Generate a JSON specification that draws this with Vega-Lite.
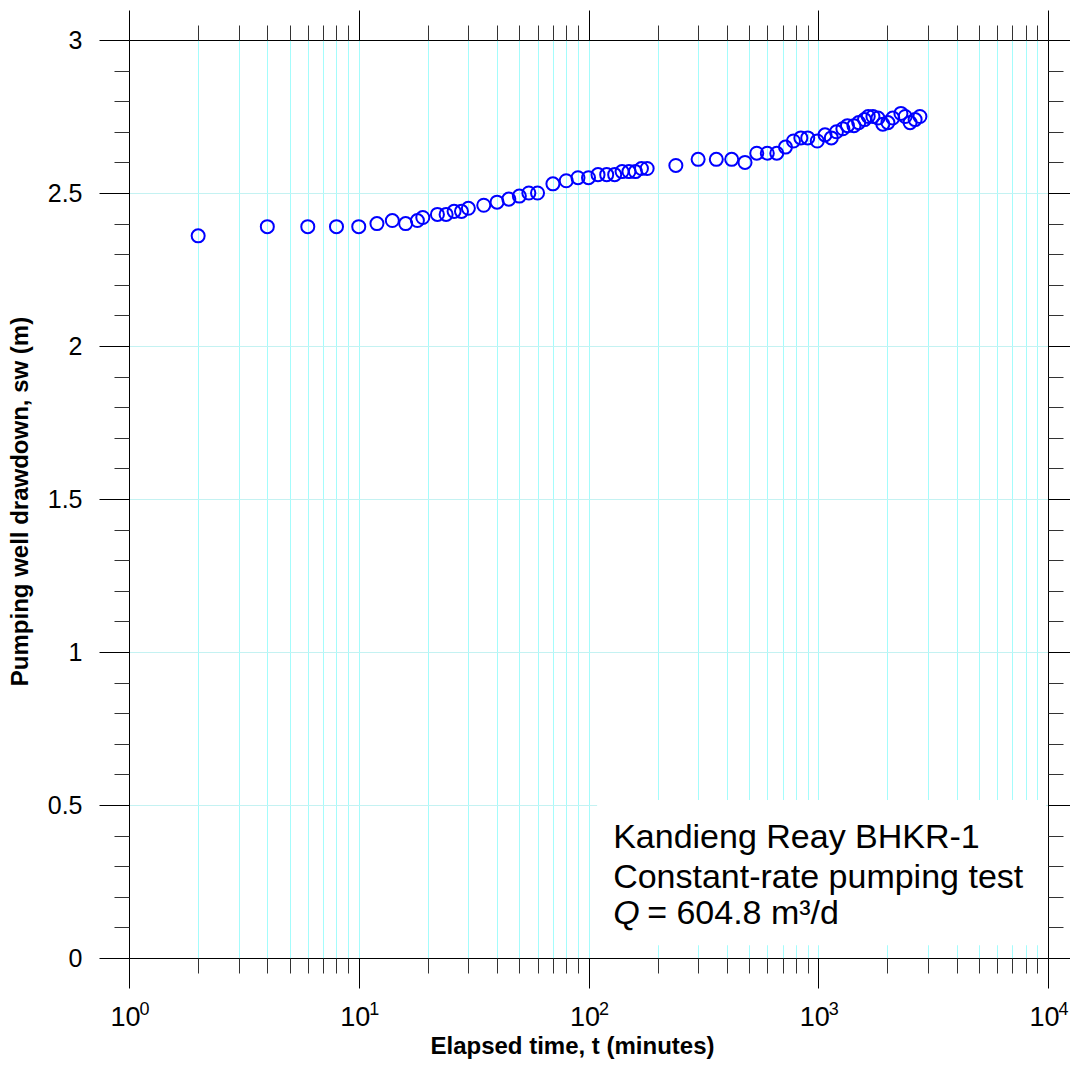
{
  "$schema": "https://vega.github.io/schema/vega-lite/v6.json",
  "width": 919,
  "height": 918,
  "autosize": {"type": "none"},
  "padding": {"left": 129, "top": 40, "right": 22, "bottom": 110},
  "background": "white",
  "config": {
    "view": {"stroke": null},
    "font": "Liberation Sans",
    "axis": {"labelFont": "Liberation Sans", "titleFont": "Liberation Sans", "labelColor": "black", "titleColor": "black", "domainColor": "black", "tickColor": "black", "tickWidth": 1, "domainWidth": 1}
  },
  "datasets": {
    "pts": [
      {"t": 2, "s": 2.36}, {"t": 4, "s": 2.39}, {"t": 6, "s": 2.39}, {"t": 8, "s": 2.39}, {"t": 10, "s": 2.39},
      {"t": 12, "s": 2.40}, {"t": 14, "s": 2.41}, {"t": 16, "s": 2.40}, {"t": 18, "s": 2.41}, {"t": 19, "s": 2.42},
      {"t": 22, "s": 2.43}, {"t": 24, "s": 2.43}, {"t": 26, "s": 2.44}, {"t": 28, "s": 2.44}, {"t": 30, "s": 2.45},
      {"t": 35, "s": 2.46}, {"t": 40, "s": 2.47}, {"t": 45, "s": 2.48}, {"t": 50, "s": 2.49}, {"t": 55, "s": 2.50},
      {"t": 60, "s": 2.50}, {"t": 70, "s": 2.53}, {"t": 80, "s": 2.54}, {"t": 90, "s": 2.55}, {"t": 100, "s": 2.55},
      {"t": 110, "s": 2.56}, {"t": 120, "s": 2.56}, {"t": 130, "s": 2.56}, {"t": 140, "s": 2.57}, {"t": 150, "s": 2.57},
      {"t": 160, "s": 2.57}, {"t": 170, "s": 2.58}, {"t": 180, "s": 2.58}, {"t": 240, "s": 2.59}, {"t": 300, "s": 2.61},
      {"t": 360, "s": 2.61}, {"t": 420, "s": 2.61}, {"t": 480, "s": 2.60}, {"t": 540, "s": 2.63}, {"t": 600, "s": 2.63},
      {"t": 660, "s": 2.63}, {"t": 720, "s": 2.65}, {"t": 780, "s": 2.67}, {"t": 840, "s": 2.68}, {"t": 900, "s": 2.68},
      {"t": 990, "s": 2.67}, {"t": 1070, "s": 2.69}, {"t": 1140, "s": 2.68}, {"t": 1200, "s": 2.70}, {"t": 1280, "s": 2.71},
      {"t": 1340, "s": 2.72}, {"t": 1430, "s": 2.72}, {"t": 1500, "s": 2.73}, {"t": 1590, "s": 2.74}, {"t": 1650, "s": 2.75},
      {"t": 1730, "s": 2.75}, {"t": 1820, "s": 2.745}, {"t": 1910, "s": 2.725}, {"t": 2010, "s": 2.73}, {"t": 2110, "s": 2.745},
      {"t": 2290, "s": 2.76}, {"t": 2390, "s": 2.75}, {"t": 2510, "s": 2.73}, {"t": 2640, "s": 2.74}, {"t": 2770, "s": 2.75}
    ],
    "box": [{"t1": 109, "t2": 9800, "s1": 0.042, "s2": 0.516}],
    "lines": [
      {"t": 128, "s": 0.359, "label": "Kandieng Reay BHKR-1"},
      {"t": 128, "s": 0.229, "label": "Constant-rate pumping test"}
    ],
    "qsym": [{"t": 128, "s": 0.111, "label": "Q"}],
    "qval": [{"t": 180, "s": 0.111, "label": "= 604.8 m³/d"}]
  },
  "resolve": {"axis": {"x": "independent", "y": "independent"}},
  "layer": [
    {
      "data": {"name": "box"},
      "mark": {"type": "rect", "fill": "white", "stroke": null},
      "encoding": {
        "x": {"field": "t1", "type": "quantitative",
          "scale": {"type": "log", "domain": [1, 10000], "nice": false},
          "axis": {"orient": "bottom", "values": [2,3,4,5,6,7,8,9,10,20,30,40,50,60,70,80,90,100,200,300,400,500,600,700,800,900,1000,2000,3000,4000,5000,6000,7000,8000,9000],
            "grid": true, "gridColor": "#a4fcfc", "gridWidth": 1, "gridOpacity": 1, "ticks": false, "labels": false, "domain": false, "title": null}},
        "x2": {"field": "t2"},
        "y": {"field": "s1", "type": "quantitative",
          "scale": {"domain": [0, 3], "nice": false, "zero": false},
          "axis": {"orient": "left", "values": [0.5, 1, 1.5, 2, 2.5], "grid": true, "gridColor": "#c4f2f2", "gridWidth": 1, "gridOpacity": 1, "ticks": false, "labels": false, "domain": false, "title": null}},
        "y2": {"field": "s2"}
      }
    },
    {
      "data": {"name": "pts"},
      "mark": {"type": "point", "shape": "circle", "filled": false, "stroke": "#0000ff", "strokeWidth": 2, "size": 170, "opacity": 1},
      "encoding": {
        "x": {"field": "t", "type": "quantitative",
          "scale": {"type": "log", "domain": [1, 10000], "nice": false},
          "axis": {"orient": "bottom", "values": [1, 10, 100, 1000, 10000], "grid": false, "domain": true, "ticks": true, "tickSize": 30,
            "labelExpr": "'10'",
            "labelFontSize": 27, "labelPadding": 16, "labelOffset": -4, "labelBaseline": "top", "labelFlush": false, "labelOverlap": false,
            "title": "Elapsed time, t (minutes)", "titleFontSize": 24, "titleFontWeight": "bold", "titleX": 443, "titleY": 95, "titleBaseline": "alphabetic", "titleAlign": "center"}},
        "y": {"field": "s", "type": "quantitative",
          "scale": {"domain": [0, 3], "nice": false, "zero": false},
          "axis": {"orient": "left", "values": [0, 0.5, 1, 1.5, 2, 2.5, 3], "grid": false, "domain": true, "ticks": true, "tickSize": 30,
            "labelFontSize": 25, "labelPadding": 17, "labelFlush": false, "labelOverlap": false, "labelBaseline": "middle",
            "labelExpr": "datum.value == 0 ? '0' : format(datum.value, '~g')",
            "title": "Pumping well drawdown, sw (m)", "titleFontSize": 24, "titleFontWeight": "bold", "titleAngle": -90, "titleX": -109, "titleY": 461, "titleBaseline": "middle", "titleAlign": "center"}}
      }
    },
    {
      "data": {"name": "lines"},
      "mark": {"type": "text", "align": "left", "baseline": "alphabetic", "fontSize": 34, "font": "Liberation Sans", "color": "black"},
      "encoding": {
        "x": {"field": "t", "type": "quantitative",
          "scale": {"type": "log", "domain": [1, 10000], "nice": false},
          "axis": {"orient": "bottom", "values": [2,3,4,5,6,7,8,9,20,30,40,50,60,70,80,90,200,300,400,500,600,700,800,900,2000,3000,4000,5000,6000,7000,8000,9000],
            "grid": false, "domain": false, "labels": false, "tickSize": 15, "tickColor": "#333", "title": null}},
        "y": {"field": "s", "type": "quantitative",
          "scale": {"domain": [0, 3], "nice": false, "zero": false},
          "axis": {"orient": "left", "values": [0.1,0.2,0.3,0.4,0.6,0.7,0.8,0.9,1.1,1.2,1.3,1.4,1.6,1.7,1.8,1.9,2.1,2.2,2.3,2.4,2.6,2.7,2.8,2.9],
            "grid": false, "domain": false, "labels": false, "tickSize": 15, "tickColor": "#333", "title": null}},
        "text": {"field": "label"}
      }
    },
    {
      "data": {"name": "qsym"},
      "mark": {"type": "text", "align": "left", "baseline": "alphabetic", "fontSize": 34, "fontStyle": "italic", "font": "Liberation Sans", "color": "black"},
      "encoding": {
        "x": {"field": "t", "type": "quantitative",
          "scale": {"type": "log", "domain": [1, 10000], "nice": false},
          "axis": {"orient": "top", "values": [1, 10, 100, 1000, 10000], "grid": false, "domain": true, "labels": false, "tickSize": 30, "title": null}},
        "y": {"field": "s", "type": "quantitative",
          "scale": {"domain": [0, 3], "nice": false, "zero": false},
          "axis": {"orient": "right", "values": [0, 0.5, 1, 1.5, 2, 2.5, 3], "grid": false, "domain": true, "labels": false, "tickSize": 30, "title": null}},
        "text": {"field": "label"}
      }
    },
    {
      "data": {"name": "qval"},
      "mark": {"type": "text", "align": "left", "baseline": "alphabetic", "fontSize": 34, "font": "Liberation Sans", "color": "black"},
      "encoding": {
        "x": {"field": "t", "type": "quantitative",
          "scale": {"type": "log", "domain": [1, 10000], "nice": false},
          "axis": {"orient": "top", "values": [2,3,4,5,6,7,8,9,20,30,40,50,60,70,80,90,200,300,400,500,600,700,800,900,2000,3000,4000,5000,6000,7000,8000,9000],
            "grid": false, "domain": false, "labels": false, "tickSize": 15, "tickColor": "#333", "title": null}},
        "y": {"field": "s", "type": "quantitative",
          "scale": {"domain": [0, 3], "nice": false, "zero": false},
          "axis": {"orient": "right", "values": [0.1,0.2,0.3,0.4,0.6,0.7,0.8,0.9,1.1,1.2,1.3,1.4,1.6,1.7,1.8,1.9,2.1,2.2,2.3,2.4,2.6,2.7,2.8,2.9],
            "grid": false, "domain": false, "labels": false, "tickSize": 15, "tickColor": "#333", "title": null}},
        "text": {"field": "label"}
      }
    },
    {
      "data": {"name": "pts"},
      "mark": {"type": "point", "opacity": 0},
      "encoding": {
        "x": {"field": "t", "type": "quantitative",
          "scale": {"type": "log", "domain": [1, 10000], "nice": false},
          "axis": {"orient": "bottom", "values": [1, 10, 100, 1000, 10000], "grid": false, "domain": false, "ticks": false, "tickSize": 0,
            "labelExpr": "format(round(log(datum.value)/LN10), 'd')",
            "labelFontSize": 18, "labelPadding": 42, "labelOffset": 15, "labelBaseline": "top", "labelFlush": false, "labelOverlap": false, "title": null}}
      }
    }
  ]
}
